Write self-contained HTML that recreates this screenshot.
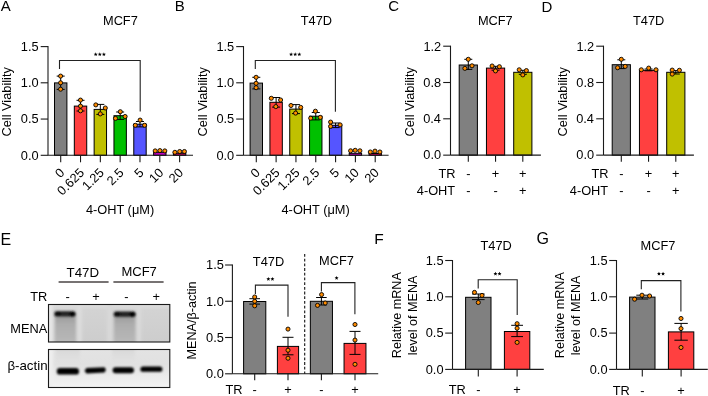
<!DOCTYPE html>
<html><head><meta charset="utf-8"><style>
html,body{margin:0;padding:0;background:#fff;}
svg{display:block;will-change:transform;font-family:"Liberation Sans", sans-serif;}
</style></head><body>
<svg width="708" height="396" viewBox="0 0 708 396">
<rect width="708" height="396" fill="#fff"/>
<text x="0.77" y="11.20" font-size="15" fill="#000" >A</text>
<text x="174.77" y="11.40" font-size="15" fill="#000" >B</text>
<text x="388.24" y="11.25" font-size="15" fill="#000" >C</text>
<text x="541.47" y="11.50" font-size="15" fill="#000" >D</text>
<text x="0.49" y="244.60" font-size="16" fill="#000" >E</text>
<text x="374.13" y="244.40" font-size="15.5" fill="#000" >F</text>
<text x="536.40" y="244.34" font-size="16" fill="#000" >G</text>
<text x="102.97" y="24.88" font-size="12.8" fill="#000" >MCF7</text>
<text transform="translate(11.00,136.55) rotate(-90)" font-size="12.8">Cell Viability</text>
<line x1="48.00" y1="46.10" x2="48.00" y2="155.30" stroke="#1a1a1a" stroke-width="1.1" />
<line x1="40.70" y1="46.60" x2="48.00" y2="46.60" stroke="#1a1a1a" stroke-width="1.1" />
<text x="20.84" y="50.88" font-size="12.8" fill="#000" >1.5</text>
<line x1="40.70" y1="82.80" x2="48.00" y2="82.80" stroke="#1a1a1a" stroke-width="1.1" />
<text x="20.81" y="87.08" font-size="12.8" fill="#000" >1.0</text>
<line x1="40.70" y1="119.05" x2="48.00" y2="119.05" stroke="#1a1a1a" stroke-width="1.1" />
<text x="20.84" y="123.33" font-size="12.8" fill="#000" >0.5</text>
<line x1="40.70" y1="155.30" x2="48.00" y2="155.30" stroke="#1a1a1a" stroke-width="1.1" />
<text x="20.81" y="159.58" font-size="12.8" fill="#000" >0.0</text>
<rect x="54.50" y="82.90" width="12.40" height="72.40" fill="#808080" stroke="#000" stroke-width="1.0"/>
<line x1="60.70" y1="76.10" x2="60.70" y2="89.40" stroke="#000" stroke-width="1.0" />
<line x1="56.70" y1="76.10" x2="64.70" y2="76.10" stroke="#000" stroke-width="1.0" />
<line x1="56.70" y1="89.40" x2="64.70" y2="89.40" stroke="#000" stroke-width="1.0" />
<circle cx="60.60" cy="76.10" r="2.05" fill="#FF8C00" stroke="#000" stroke-width="0.9"/>
<circle cx="60.60" cy="82.80" r="2.05" fill="#FF8C00" stroke="#000" stroke-width="0.9"/>
<circle cx="60.60" cy="89.20" r="2.05" fill="#FF8C00" stroke="#000" stroke-width="0.9"/>
<rect x="74.32" y="106.10" width="12.40" height="49.20" fill="#FF4040" stroke="#000" stroke-width="1.0"/>
<line x1="80.52" y1="100.30" x2="80.52" y2="111.00" stroke="#000" stroke-width="1.0" />
<line x1="76.52" y1="100.30" x2="84.52" y2="100.30" stroke="#000" stroke-width="1.0" />
<line x1="76.52" y1="111.00" x2="84.52" y2="111.00" stroke="#000" stroke-width="1.0" />
<circle cx="80.50" cy="100.10" r="2.05" fill="#FF8C00" stroke="#000" stroke-width="0.9"/>
<circle cx="80.50" cy="106.10" r="2.05" fill="#FF8C00" stroke="#000" stroke-width="0.9"/>
<circle cx="80.50" cy="110.80" r="2.05" fill="#FF8C00" stroke="#000" stroke-width="0.9"/>
<rect x="94.14" y="109.40" width="12.40" height="45.90" fill="#C0C000" stroke="#000" stroke-width="1.0"/>
<line x1="100.34" y1="104.40" x2="100.34" y2="114.40" stroke="#000" stroke-width="1.0" />
<line x1="96.34" y1="104.40" x2="104.34" y2="104.40" stroke="#000" stroke-width="1.0" />
<line x1="96.34" y1="114.40" x2="104.34" y2="114.40" stroke="#000" stroke-width="1.0" />
<circle cx="95.80" cy="104.90" r="2.05" fill="#FF8C00" stroke="#000" stroke-width="0.9"/>
<circle cx="105.30" cy="108.00" r="2.05" fill="#FF8C00" stroke="#000" stroke-width="0.9"/>
<circle cx="100.30" cy="113.90" r="2.05" fill="#FF8C00" stroke="#000" stroke-width="0.9"/>
<rect x="113.96" y="115.70" width="12.40" height="39.60" fill="#00C000" stroke="#000" stroke-width="1.0"/>
<line x1="120.16" y1="112.00" x2="120.16" y2="119.40" stroke="#000" stroke-width="1.0" />
<line x1="116.16" y1="112.00" x2="124.16" y2="112.00" stroke="#000" stroke-width="1.0" />
<line x1="116.16" y1="119.40" x2="124.16" y2="119.40" stroke="#000" stroke-width="1.0" />
<circle cx="120.30" cy="111.70" r="2.05" fill="#FF8C00" stroke="#000" stroke-width="0.9"/>
<circle cx="115.50" cy="118.40" r="2.05" fill="#FF8C00" stroke="#000" stroke-width="0.9"/>
<circle cx="125.10" cy="116.50" r="2.05" fill="#FF8C00" stroke="#000" stroke-width="0.9"/>
<rect x="133.78" y="124.20" width="12.40" height="31.10" fill="#5555FF" stroke="#000" stroke-width="1.0"/>
<line x1="139.98" y1="121.50" x2="139.98" y2="126.90" stroke="#000" stroke-width="1.0" />
<line x1="135.98" y1="121.50" x2="143.98" y2="121.50" stroke="#000" stroke-width="1.0" />
<line x1="135.98" y1="126.90" x2="143.98" y2="126.90" stroke="#000" stroke-width="1.0" />
<circle cx="140.10" cy="120.10" r="2.05" fill="#FF8C00" stroke="#000" stroke-width="0.9"/>
<circle cx="135.30" cy="125.30" r="2.05" fill="#FF8C00" stroke="#000" stroke-width="0.9"/>
<circle cx="144.60" cy="125.30" r="2.05" fill="#FF8C00" stroke="#000" stroke-width="0.9"/>
<rect x="153.60" y="152.30" width="12.40" height="3.00" fill="#C000C0" stroke="#000" stroke-width="1.0"/>
<circle cx="155.20" cy="150.90" r="2.05" fill="#FF8C00" stroke="#000" stroke-width="0.9"/>
<circle cx="159.90" cy="150.60" r="2.05" fill="#FF8C00" stroke="#000" stroke-width="0.9"/>
<circle cx="164.80" cy="150.90" r="2.05" fill="#FF8C00" stroke="#000" stroke-width="0.9"/>
<rect x="173.42" y="153.20" width="12.40" height="2.10" fill="#CC0066" stroke="#000" stroke-width="1.0"/>
<circle cx="174.90" cy="152.30" r="2.05" fill="#FF8C00" stroke="#000" stroke-width="0.9"/>
<circle cx="179.70" cy="151.50" r="2.05" fill="#FF8C00" stroke="#000" stroke-width="0.9"/>
<circle cx="184.40" cy="151.50" r="2.05" fill="#FF8C00" stroke="#000" stroke-width="0.9"/>
<line x1="48.00" y1="155.30" x2="193.00" y2="155.30" stroke="#1a1a1a" stroke-width="1.1" />
<line x1="60.70" y1="155.30" x2="60.70" y2="162.30" stroke="#1a1a1a" stroke-width="1.1" />
<line x1="80.52" y1="155.30" x2="80.52" y2="162.30" stroke="#1a1a1a" stroke-width="1.1" />
<line x1="100.34" y1="155.30" x2="100.34" y2="162.30" stroke="#1a1a1a" stroke-width="1.1" />
<line x1="120.16" y1="155.30" x2="120.16" y2="162.30" stroke="#1a1a1a" stroke-width="1.1" />
<line x1="139.98" y1="155.30" x2="139.98" y2="162.30" stroke="#1a1a1a" stroke-width="1.1" />
<line x1="159.80" y1="155.30" x2="159.80" y2="162.30" stroke="#1a1a1a" stroke-width="1.1" />
<line x1="179.62" y1="155.30" x2="179.62" y2="162.30" stroke="#1a1a1a" stroke-width="1.1" />
<polyline points="59.50,69.10 59.50,60.50 140.20,60.50 140.20,111.40" fill="none" stroke="#222" stroke-width="1.1"/>
<polygon points="95.70,52.30 96.26,53.64 97.70,53.75 96.60,54.69 96.93,56.10 95.70,55.34 94.47,56.10 94.80,54.69 93.70,53.75 95.14,53.64" fill="#000"/>
<polygon points="99.80,52.30 100.36,53.64 101.80,53.75 100.70,54.69 101.03,56.10 99.80,55.34 98.57,56.10 98.90,54.69 97.80,53.75 99.24,53.64" fill="#000"/>
<polygon points="103.90,52.30 104.46,53.64 105.90,53.75 104.80,54.69 105.13,56.10 103.90,55.34 102.67,56.10 103.00,54.69 101.90,53.75 103.34,53.64" fill="#000"/>
<text transform="translate(65.20,173.40) rotate(-45)" font-size="12.8" text-anchor="end">0</text>
<text transform="translate(85.02,173.40) rotate(-45)" font-size="12.8" text-anchor="end">0.625</text>
<text transform="translate(104.84,173.40) rotate(-45)" font-size="12.8" text-anchor="end">1.25</text>
<text transform="translate(124.66,173.40) rotate(-45)" font-size="12.8" text-anchor="end">2.5</text>
<text transform="translate(144.48,173.40) rotate(-45)" font-size="12.8" text-anchor="end">5</text>
<text transform="translate(164.30,173.40) rotate(-45)" font-size="12.8" text-anchor="end">10</text>
<text transform="translate(184.12,173.40) rotate(-45)" font-size="12.8" text-anchor="end">20</text>
<text x="85.91" y="214.00" font-size="12.8" fill="#000" >4-OHT (μM)</text>
<text x="300.71" y="25.00" font-size="12.8" fill="#000" >T47D</text>
<text transform="translate(206.60,136.55) rotate(-90)" font-size="12.8">Cell Viability</text>
<line x1="243.50" y1="46.10" x2="243.50" y2="155.30" stroke="#1a1a1a" stroke-width="1.1" />
<line x1="236.20" y1="46.60" x2="243.50" y2="46.60" stroke="#1a1a1a" stroke-width="1.1" />
<text x="216.44" y="50.88" font-size="12.8" fill="#000" >1.5</text>
<line x1="236.20" y1="82.80" x2="243.50" y2="82.80" stroke="#1a1a1a" stroke-width="1.1" />
<text x="216.41" y="87.08" font-size="12.8" fill="#000" >1.0</text>
<line x1="236.20" y1="119.05" x2="243.50" y2="119.05" stroke="#1a1a1a" stroke-width="1.1" />
<text x="216.44" y="123.33" font-size="12.8" fill="#000" >0.5</text>
<line x1="236.20" y1="155.30" x2="243.50" y2="155.30" stroke="#1a1a1a" stroke-width="1.1" />
<text x="216.41" y="159.58" font-size="12.8" fill="#000" >0.0</text>
<rect x="250.10" y="83.10" width="12.40" height="72.20" fill="#808080" stroke="#000" stroke-width="1.0"/>
<line x1="256.30" y1="77.30" x2="256.30" y2="88.90" stroke="#000" stroke-width="1.0" />
<line x1="252.30" y1="77.30" x2="260.30" y2="77.30" stroke="#000" stroke-width="1.0" />
<line x1="252.30" y1="88.90" x2="260.30" y2="88.90" stroke="#000" stroke-width="1.0" />
<circle cx="256.10" cy="77.30" r="2.05" fill="#FF8C00" stroke="#000" stroke-width="0.9"/>
<circle cx="256.10" cy="83.30" r="2.05" fill="#FF8C00" stroke="#000" stroke-width="0.9"/>
<circle cx="256.10" cy="87.70" r="2.05" fill="#FF8C00" stroke="#000" stroke-width="0.9"/>
<rect x="269.92" y="102.30" width="12.40" height="53.00" fill="#FF4040" stroke="#000" stroke-width="1.0"/>
<line x1="276.12" y1="97.50" x2="276.12" y2="107.10" stroke="#000" stroke-width="1.0" />
<line x1="272.12" y1="97.50" x2="280.12" y2="97.50" stroke="#000" stroke-width="1.0" />
<line x1="272.12" y1="107.10" x2="280.12" y2="107.10" stroke="#000" stroke-width="1.0" />
<circle cx="271.30" cy="98.30" r="2.05" fill="#FF8C00" stroke="#000" stroke-width="0.9"/>
<circle cx="280.60" cy="100.00" r="2.05" fill="#FF8C00" stroke="#000" stroke-width="0.9"/>
<circle cx="275.80" cy="106.60" r="2.05" fill="#FF8C00" stroke="#000" stroke-width="0.9"/>
<rect x="289.74" y="109.10" width="12.40" height="46.20" fill="#C0C000" stroke="#000" stroke-width="1.0"/>
<line x1="295.94" y1="104.60" x2="295.94" y2="113.60" stroke="#000" stroke-width="1.0" />
<line x1="291.94" y1="104.60" x2="299.94" y2="104.60" stroke="#000" stroke-width="1.0" />
<line x1="291.94" y1="113.60" x2="299.94" y2="113.60" stroke="#000" stroke-width="1.0" />
<circle cx="291.00" cy="105.50" r="2.05" fill="#FF8C00" stroke="#000" stroke-width="0.9"/>
<circle cx="300.70" cy="107.40" r="2.05" fill="#FF8C00" stroke="#000" stroke-width="0.9"/>
<circle cx="295.60" cy="113.10" r="2.05" fill="#FF8C00" stroke="#000" stroke-width="0.9"/>
<rect x="309.56" y="116.20" width="12.40" height="39.10" fill="#00C000" stroke="#000" stroke-width="1.0"/>
<line x1="315.76" y1="112.50" x2="315.76" y2="119.90" stroke="#000" stroke-width="1.0" />
<line x1="311.76" y1="112.50" x2="319.76" y2="112.50" stroke="#000" stroke-width="1.0" />
<line x1="311.76" y1="119.90" x2="319.76" y2="119.90" stroke="#000" stroke-width="1.0" />
<circle cx="315.40" cy="111.20" r="2.05" fill="#FF8C00" stroke="#000" stroke-width="0.9"/>
<circle cx="310.70" cy="118.20" r="2.05" fill="#FF8C00" stroke="#000" stroke-width="0.9"/>
<circle cx="320.30" cy="117.40" r="2.05" fill="#FF8C00" stroke="#000" stroke-width="0.9"/>
<rect x="329.38" y="125.30" width="12.40" height="30.00" fill="#5555FF" stroke="#000" stroke-width="1.0"/>
<line x1="335.58" y1="123.00" x2="335.58" y2="127.60" stroke="#000" stroke-width="1.0" />
<line x1="331.58" y1="123.00" x2="339.58" y2="123.00" stroke="#000" stroke-width="1.0" />
<line x1="331.58" y1="127.60" x2="339.58" y2="127.60" stroke="#000" stroke-width="1.0" />
<circle cx="330.60" cy="122.10" r="2.05" fill="#FF8C00" stroke="#000" stroke-width="0.9"/>
<circle cx="330.60" cy="126.40" r="2.05" fill="#FF8C00" stroke="#000" stroke-width="0.9"/>
<circle cx="340.10" cy="124.90" r="2.05" fill="#FF8C00" stroke="#000" stroke-width="0.9"/>
<rect x="349.20" y="153.30" width="12.40" height="2.00" fill="#C000C0" stroke="#000" stroke-width="1.0"/>
<circle cx="350.60" cy="150.80" r="2.05" fill="#FF8C00" stroke="#000" stroke-width="0.9"/>
<circle cx="355.20" cy="150.30" r="2.05" fill="#FF8C00" stroke="#000" stroke-width="0.9"/>
<circle cx="359.90" cy="150.80" r="2.05" fill="#FF8C00" stroke="#000" stroke-width="0.9"/>
<rect x="369.02" y="153.50" width="12.40" height="1.80" fill="#CC0066" stroke="#000" stroke-width="1.0"/>
<circle cx="370.30" cy="152.00" r="2.05" fill="#FF8C00" stroke="#000" stroke-width="0.9"/>
<circle cx="375.00" cy="151.10" r="2.05" fill="#FF8C00" stroke="#000" stroke-width="0.9"/>
<circle cx="379.90" cy="152.00" r="2.05" fill="#FF8C00" stroke="#000" stroke-width="0.9"/>
<line x1="243.50" y1="155.30" x2="388.60" y2="155.30" stroke="#1a1a1a" stroke-width="1.1" />
<line x1="256.30" y1="155.30" x2="256.30" y2="162.30" stroke="#1a1a1a" stroke-width="1.1" />
<line x1="276.12" y1="155.30" x2="276.12" y2="162.30" stroke="#1a1a1a" stroke-width="1.1" />
<line x1="295.94" y1="155.30" x2="295.94" y2="162.30" stroke="#1a1a1a" stroke-width="1.1" />
<line x1="315.76" y1="155.30" x2="315.76" y2="162.30" stroke="#1a1a1a" stroke-width="1.1" />
<line x1="335.58" y1="155.30" x2="335.58" y2="162.30" stroke="#1a1a1a" stroke-width="1.1" />
<line x1="355.40" y1="155.30" x2="355.40" y2="162.30" stroke="#1a1a1a" stroke-width="1.1" />
<line x1="375.22" y1="155.30" x2="375.22" y2="162.30" stroke="#1a1a1a" stroke-width="1.1" />
<polyline points="255.30,69.10 255.30,60.50 335.40,60.50 335.40,111.70" fill="none" stroke="#222" stroke-width="1.1"/>
<polygon points="291.10,52.30 291.66,53.64 293.10,53.75 292.00,54.69 292.33,56.10 291.10,55.34 289.87,56.10 290.20,54.69 289.10,53.75 290.54,53.64" fill="#000"/>
<polygon points="295.20,52.30 295.76,53.64 297.20,53.75 296.10,54.69 296.43,56.10 295.20,55.34 293.97,56.10 294.30,54.69 293.20,53.75 294.64,53.64" fill="#000"/>
<polygon points="299.30,52.30 299.86,53.64 301.30,53.75 300.20,54.69 300.53,56.10 299.30,55.34 298.07,56.10 298.40,54.69 297.30,53.75 298.74,53.64" fill="#000"/>
<text transform="translate(260.80,173.40) rotate(-45)" font-size="12.8" text-anchor="end">0</text>
<text transform="translate(280.62,173.40) rotate(-45)" font-size="12.8" text-anchor="end">0.625</text>
<text transform="translate(300.44,173.40) rotate(-45)" font-size="12.8" text-anchor="end">1.25</text>
<text transform="translate(320.26,173.40) rotate(-45)" font-size="12.8" text-anchor="end">2.5</text>
<text transform="translate(340.08,173.40) rotate(-45)" font-size="12.8" text-anchor="end">5</text>
<text transform="translate(359.90,173.40) rotate(-45)" font-size="12.8" text-anchor="end">10</text>
<text transform="translate(379.72,173.40) rotate(-45)" font-size="12.8" text-anchor="end">20</text>
<text x="281.51" y="214.00" font-size="12.8" fill="#000" >4-OHT (μM)</text>
<text x="477.88" y="24.88" font-size="12.8" fill="#000" >MCF7</text>
<text transform="translate(414.30,136.55) rotate(-90)" font-size="12.8">Cell Viability</text>
<line x1="450.50" y1="45.70" x2="450.50" y2="155.15" stroke="#1a1a1a" stroke-width="1.1" />
<line x1="443.20" y1="46.20" x2="450.50" y2="46.20" stroke="#1a1a1a" stroke-width="1.1" />
<text x="423.45" y="50.60" font-size="12.8" fill="#000" >1.2</text>
<line x1="443.20" y1="82.50" x2="450.50" y2="82.50" stroke="#1a1a1a" stroke-width="1.1" />
<text x="423.36" y="86.78" font-size="12.8" fill="#000" >0.8</text>
<line x1="443.20" y1="118.80" x2="450.50" y2="118.80" stroke="#1a1a1a" stroke-width="1.1" />
<text x="423.18" y="123.08" font-size="12.8" fill="#000" >0.4</text>
<line x1="443.20" y1="155.15" x2="450.50" y2="155.15" stroke="#1a1a1a" stroke-width="1.1" />
<text x="423.31" y="159.43" font-size="12.8" fill="#000" >0.0</text>
<rect x="459.20" y="65.00" width="18.20" height="90.15" fill="#808080" stroke="#000" stroke-width="1.0"/>
<line x1="468.30" y1="59.30" x2="468.30" y2="69.40" stroke="#000" stroke-width="1.0" />
<line x1="464.30" y1="59.30" x2="472.30" y2="59.30" stroke="#000" stroke-width="1.0" />
<line x1="464.30" y1="69.40" x2="472.30" y2="69.40" stroke="#000" stroke-width="1.0" />
<circle cx="468.30" cy="59.30" r="2.05" fill="#FF8C00" stroke="#000" stroke-width="0.9"/>
<circle cx="464.90" cy="68.40" r="2.05" fill="#FF8C00" stroke="#000" stroke-width="0.9"/>
<circle cx="472.00" cy="65.80" r="2.05" fill="#FF8C00" stroke="#000" stroke-width="0.9"/>
<rect x="486.45" y="68.10" width="18.20" height="87.05" fill="#FF4040" stroke="#000" stroke-width="1.0"/>
<line x1="495.55" y1="66.30" x2="495.55" y2="70.20" stroke="#000" stroke-width="1.0" />
<line x1="491.55" y1="66.30" x2="499.55" y2="66.30" stroke="#000" stroke-width="1.0" />
<line x1="491.55" y1="70.20" x2="499.55" y2="70.20" stroke="#000" stroke-width="1.0" />
<circle cx="492.10" cy="66.00" r="2.05" fill="#FF8C00" stroke="#000" stroke-width="0.9"/>
<circle cx="499.40" cy="66.70" r="2.05" fill="#FF8C00" stroke="#000" stroke-width="0.9"/>
<circle cx="495.50" cy="70.90" r="2.05" fill="#FF8C00" stroke="#000" stroke-width="0.9"/>
<rect x="513.70" y="72.30" width="18.20" height="82.85" fill="#C0C000" stroke="#000" stroke-width="1.0"/>
<line x1="522.80" y1="70.30" x2="522.80" y2="74.30" stroke="#000" stroke-width="1.0" />
<line x1="518.80" y1="70.30" x2="526.80" y2="70.30" stroke="#000" stroke-width="1.0" />
<line x1="518.80" y1="74.30" x2="526.80" y2="74.30" stroke="#000" stroke-width="1.0" />
<circle cx="519.20" cy="69.80" r="2.05" fill="#FF8C00" stroke="#000" stroke-width="0.9"/>
<circle cx="526.40" cy="70.60" r="2.05" fill="#FF8C00" stroke="#000" stroke-width="0.9"/>
<circle cx="522.80" cy="74.90" r="2.05" fill="#FF8C00" stroke="#000" stroke-width="0.9"/>
<line x1="450.50" y1="155.15" x2="540.90" y2="155.15" stroke="#1a1a1a" stroke-width="1.1" />
<line x1="468.30" y1="155.15" x2="468.30" y2="161.65" stroke="#1a1a1a" stroke-width="1.1" />
<line x1="495.55" y1="155.15" x2="495.55" y2="161.65" stroke="#1a1a1a" stroke-width="1.1" />
<line x1="522.80" y1="155.15" x2="522.80" y2="161.65" stroke="#1a1a1a" stroke-width="1.1" />
<text x="438.43" y="177.60" font-size="12.8" fill="#000" >TR</text>
<text x="416.79" y="194.68" font-size="12.8" fill="#000" >4-OHT</text>
<text x="466.17" y="177.60" font-size="12.8" fill="#000" >-</text>
<text x="491.82" y="177.60" font-size="12.8" fill="#000" >+</text>
<text x="519.07" y="177.60" font-size="12.8" fill="#000" >+</text>
<text x="466.17" y="194.80" font-size="12.8" fill="#000" >-</text>
<text x="493.42" y="194.80" font-size="12.8" fill="#000" >-</text>
<text x="519.07" y="194.80" font-size="12.8" fill="#000" >+</text>
<text x="633.01" y="25.00" font-size="12.8" fill="#000" >T47D</text>
<text transform="translate(567.30,136.55) rotate(-90)" font-size="12.8">Cell Viability</text>
<line x1="603.50" y1="45.70" x2="603.50" y2="155.15" stroke="#1a1a1a" stroke-width="1.1" />
<line x1="596.20" y1="46.20" x2="603.50" y2="46.20" stroke="#1a1a1a" stroke-width="1.1" />
<text x="576.45" y="50.60" font-size="12.8" fill="#000" >1.2</text>
<line x1="596.20" y1="82.50" x2="603.50" y2="82.50" stroke="#1a1a1a" stroke-width="1.1" />
<text x="576.36" y="86.78" font-size="12.8" fill="#000" >0.8</text>
<line x1="596.20" y1="118.80" x2="603.50" y2="118.80" stroke="#1a1a1a" stroke-width="1.1" />
<text x="576.18" y="123.08" font-size="12.8" fill="#000" >0.4</text>
<line x1="596.20" y1="155.15" x2="603.50" y2="155.15" stroke="#1a1a1a" stroke-width="1.1" />
<text x="576.31" y="159.43" font-size="12.8" fill="#000" >0.0</text>
<rect x="612.20" y="64.70" width="18.20" height="90.45" fill="#808080" stroke="#000" stroke-width="1.0"/>
<line x1="621.30" y1="59.80" x2="621.30" y2="68.60" stroke="#000" stroke-width="1.0" />
<line x1="617.30" y1="59.80" x2="625.30" y2="59.80" stroke="#000" stroke-width="1.0" />
<line x1="617.30" y1="68.60" x2="625.30" y2="68.60" stroke="#000" stroke-width="1.0" />
<circle cx="621.30" cy="59.30" r="2.05" fill="#FF8C00" stroke="#000" stroke-width="0.9"/>
<circle cx="617.60" cy="67.70" r="2.05" fill="#FF8C00" stroke="#000" stroke-width="0.9"/>
<circle cx="625.20" cy="66.40" r="2.05" fill="#FF8C00" stroke="#000" stroke-width="0.9"/>
<rect x="639.45" y="70.30" width="18.20" height="84.85" fill="#FF4040" stroke="#000" stroke-width="1.0"/>
<line x1="648.55" y1="69.00" x2="648.55" y2="70.80" stroke="#000" stroke-width="1.0" />
<line x1="644.55" y1="69.00" x2="652.55" y2="69.00" stroke="#000" stroke-width="1.0" />
<line x1="644.55" y1="70.80" x2="652.55" y2="70.80" stroke="#000" stroke-width="1.0" />
<circle cx="641.30" cy="69.80" r="2.05" fill="#FF8C00" stroke="#000" stroke-width="0.9"/>
<circle cx="648.70" cy="68.10" r="2.05" fill="#FF8C00" stroke="#000" stroke-width="0.9"/>
<circle cx="656.00" cy="69.80" r="2.05" fill="#FF8C00" stroke="#000" stroke-width="0.9"/>
<rect x="666.70" y="72.30" width="18.20" height="82.85" fill="#C0C000" stroke="#000" stroke-width="1.0"/>
<line x1="675.80" y1="70.60" x2="675.80" y2="74.00" stroke="#000" stroke-width="1.0" />
<line x1="671.80" y1="70.60" x2="679.80" y2="70.60" stroke="#000" stroke-width="1.0" />
<line x1="671.80" y1="74.00" x2="679.80" y2="74.00" stroke="#000" stroke-width="1.0" />
<circle cx="672.20" cy="70.10" r="2.05" fill="#FF8C00" stroke="#000" stroke-width="0.9"/>
<circle cx="679.40" cy="70.30" r="2.05" fill="#FF8C00" stroke="#000" stroke-width="0.9"/>
<circle cx="672.20" cy="74.10" r="2.05" fill="#FF8C00" stroke="#000" stroke-width="0.9"/>
<line x1="603.50" y1="155.15" x2="693.90" y2="155.15" stroke="#1a1a1a" stroke-width="1.1" />
<line x1="621.30" y1="155.15" x2="621.30" y2="161.65" stroke="#1a1a1a" stroke-width="1.1" />
<line x1="648.55" y1="155.15" x2="648.55" y2="161.65" stroke="#1a1a1a" stroke-width="1.1" />
<line x1="675.80" y1="155.15" x2="675.80" y2="161.65" stroke="#1a1a1a" stroke-width="1.1" />
<text x="591.43" y="177.60" font-size="12.8" fill="#000" >TR</text>
<text x="569.79" y="194.68" font-size="12.8" fill="#000" >4-OHT</text>
<text x="619.17" y="177.60" font-size="12.8" fill="#000" >-</text>
<text x="644.82" y="177.60" font-size="12.8" fill="#000" >+</text>
<text x="672.07" y="177.60" font-size="12.8" fill="#000" >+</text>
<text x="619.17" y="194.80" font-size="12.8" fill="#000" >-</text>
<text x="646.42" y="194.80" font-size="12.8" fill="#000" >-</text>
<text x="672.07" y="194.80" font-size="12.8" fill="#000" >+</text>
<text x="66.60" y="277.20" font-size="13.3" fill="#000" >T47D</text>
<text x="121.43" y="275.97" font-size="13.0" fill="#000" >MCF7</text>
<line x1="58.60" y1="282.00" x2="108.60" y2="282.00" stroke="#4a4444" stroke-width="1.6" />
<line x1="113.40" y1="282.00" x2="163.60" y2="282.00" stroke="#4a4444" stroke-width="1.6" />
<text x="30.21" y="300.80" font-size="12.8" fill="#000" >TR</text>
<text x="65.57" y="300.80" font-size="12.8" fill="#000" >-</text>
<text x="92.27" y="300.80" font-size="12.8" fill="#000" >+</text>
<text x="124.27" y="300.80" font-size="12.8" fill="#000" >-</text>
<text x="152.57" y="300.80" font-size="12.8" fill="#000" >+</text>
<text x="10.35" y="333.00" font-size="12.8" fill="#000" >MENA</text>
<text x="7.38" y="369.80" font-size="13.3" fill="#000" >β-actin</text>
<defs>
<filter id="bl1" x="-30%" y="-100%" width="160%" height="300%"><feGaussianBlur stdDeviation="1.15"/></filter>
<filter id="bl2" x="-30%" y="-30%" width="160%" height="160%"><feGaussianBlur stdDeviation="1.6"/></filter>
<filter id="bl3" x="-30%" y="-60%" width="160%" height="220%"><feGaussianBlur stdDeviation="0.85"/></filter>
<linearGradient id="topbg" x1="0" y1="0" x2="0" y2="1">
<stop offset="0" stop-color="#dedede"/><stop offset="0.15" stop-color="#d3d3d3"/><stop offset="1" stop-color="#cdcdcd"/>
</linearGradient>
<linearGradient id="smear" x1="0" y1="0" x2="0" y2="1">
<stop offset="0" stop-color="#999999"/><stop offset="0.3" stop-color="#adadad"/><stop offset="1" stop-color="#bdbdbd"/>
</linearGradient>
<linearGradient id="botbg" x1="0" y1="0" x2="0" y2="1">
<stop offset="0" stop-color="#e3e3e3"/><stop offset="0.4" stop-color="#e1e1e1"/><stop offset="0.7" stop-color="#ebebeb"/><stop offset="1" stop-color="#f2f2f2"/>
</linearGradient>
<linearGradient id="smear2" x1="0" y1="0" x2="0" y2="1">
<stop offset="0" stop-color="#d2d2d2"/><stop offset="1" stop-color="#dedede" stop-opacity="0"/>
</linearGradient>
<clipPath id="cb1"><rect x="48.5" y="304.5" width="121.3" height="37.5"/></clipPath>
<clipPath id="cb2"><rect x="48.5" y="349.5" width="121.3" height="38"/></clipPath>
</defs>
<g clip-path="url(#cb1)">
<rect x="48.5" y="304.5" width="121.3" height="37.5" fill="url(#topbg)"/>
<g filter="url(#bl2)">
<rect x="47" y="300" width="6" height="50" fill="#e6e6e6"/>
<rect x="77" y="300" width="5" height="50" fill="#dcdcdc"/>
<rect x="107" y="300" width="5" height="50" fill="#d8d8d8"/>
<rect x="137" y="300" width="4" height="50" fill="#dadada"/>
<rect x="55" y="314" width="21" height="36" fill="url(#smear)"/>
<rect x="114" y="314" width="21.5" height="36" fill="url(#smear)"/>
</g>
<g filter="url(#bl1)">
<rect x="54.3" y="311.3" width="21.0" height="5.3" rx="2.5" fill="#222"/>
<rect x="113.7" y="311.5" width="21.7" height="5.3" rx="2.5" fill="#222"/>
<ellipse cx="72.5" cy="314" rx="3" ry="2.3" fill="#000"/>
<ellipse cx="132.5" cy="314.2" rx="3" ry="2.3" fill="#000"/>
<ellipse cx="58" cy="313.8" rx="3" ry="2.2" fill="#111"/>
<ellipse cx="117.5" cy="313.9" rx="3" ry="2.2" fill="#111"/>
</g>
</g>
<g clip-path="url(#cb2)">
<rect x="48.5" y="349.5" width="121.3" height="38" fill="url(#botbg)"/>
<g filter="url(#bl2)">
<rect x="56" y="345" width="24" height="20" fill="url(#smear2)"/>
<rect x="112" y="345" width="23" height="20" fill="url(#smear2)"/>
<rect x="47" y="345" width="6" height="46" fill="#efefef"/>
</g>
<g filter="url(#bl3)">
<rect x="56.8" y="368.0" width="22.2" height="6.6" rx="3.2" fill="#050505"/>
<polygon points="86.5,368.0 104.5,367.2 106.0,369.8 104.5,372.6 86.5,373.4 84.5,370.7" fill="#050505"/>
<rect x="112.6" y="367.2" width="21.4" height="6.1" rx="3" fill="#050505"/>
<rect x="140.4" y="366.6" width="22.0" height="5.2" rx="2.6" fill="#050505"/>
</g>
</g>
<rect x="48.5" y="304.5" width="121.3" height="37.5" fill="none" stroke="#1a1a1a" stroke-width="1.1"/>
<rect x="48.5" y="349.5" width="121.3" height="38" fill="none" stroke="#1a1a1a" stroke-width="1.1"/>

<text x="252.86" y="266.20" font-size="12.8" fill="#000" >T47D</text>
<text x="319.12" y="265.07" font-size="12.8" fill="#000" >MCF7</text>
<text transform="translate(196.30,359.39) rotate(-90)" font-size="12.6">MENA/β-actin</text>
<line x1="232.40" y1="264.50" x2="232.40" y2="373.80" stroke="#1a1a1a" stroke-width="1.1" />
<line x1="225.10" y1="265.00" x2="232.40" y2="265.00" stroke="#1a1a1a" stroke-width="1.1" />
<text x="206.04" y="269.28" font-size="12.8" fill="#000" >1.5</text>
<line x1="225.10" y1="301.25" x2="232.40" y2="301.25" stroke="#1a1a1a" stroke-width="1.1" />
<text x="206.01" y="305.53" font-size="12.8" fill="#000" >1.0</text>
<line x1="225.10" y1="337.50" x2="232.40" y2="337.50" stroke="#1a1a1a" stroke-width="1.1" />
<text x="206.04" y="341.78" font-size="12.8" fill="#000" >0.5</text>
<line x1="225.10" y1="373.80" x2="232.40" y2="373.80" stroke="#1a1a1a" stroke-width="1.1" />
<text x="206.01" y="378.08" font-size="12.8" fill="#000" >0.0</text>
<rect x="243.60" y="301.50" width="22.20" height="72.30" fill="#808080" stroke="#000" stroke-width="1.0"/>
<line x1="254.70" y1="298.70" x2="254.70" y2="304.10" stroke="#000" stroke-width="1.0" />
<line x1="249.40" y1="298.70" x2="260.00" y2="298.70" stroke="#000" stroke-width="1.0" />
<line x1="249.40" y1="304.10" x2="260.00" y2="304.10" stroke="#000" stroke-width="1.0" />
<circle cx="254.70" cy="297.00" r="2.05" fill="#FF8C00" stroke="#000" stroke-width="0.9"/>
<circle cx="254.70" cy="301.30" r="2.05" fill="#FF8C00" stroke="#000" stroke-width="0.9"/>
<circle cx="254.70" cy="305.80" r="2.05" fill="#FF8C00" stroke="#000" stroke-width="0.9"/>
<rect x="277.40" y="346.40" width="21.20" height="27.40" fill="#FF4040" stroke="#000" stroke-width="1.0"/>
<line x1="288.00" y1="337.30" x2="288.00" y2="354.80" stroke="#000" stroke-width="1.0" />
<line x1="282.50" y1="337.30" x2="293.50" y2="337.30" stroke="#000" stroke-width="1.0" />
<line x1="282.50" y1="354.80" x2="293.50" y2="354.80" stroke="#000" stroke-width="1.0" />
<circle cx="288.00" cy="329.10" r="2.05" fill="#FF8C00" stroke="#000" stroke-width="0.9"/>
<circle cx="288.00" cy="350.20" r="2.05" fill="#FF8C00" stroke="#000" stroke-width="0.9"/>
<circle cx="288.00" cy="358.20" r="2.05" fill="#FF8C00" stroke="#000" stroke-width="0.9"/>
<rect x="310.35" y="301.30" width="22.10" height="72.50" fill="#808080" stroke="#000" stroke-width="1.0"/>
<line x1="321.40" y1="297.50" x2="321.40" y2="305.00" stroke="#000" stroke-width="1.0" />
<line x1="316.10" y1="297.50" x2="326.70" y2="297.50" stroke="#000" stroke-width="1.0" />
<line x1="316.10" y1="305.00" x2="326.70" y2="305.00" stroke="#000" stroke-width="1.0" />
<circle cx="321.60" cy="294.60" r="2.05" fill="#FF8C00" stroke="#000" stroke-width="0.9"/>
<circle cx="317.50" cy="305.40" r="2.05" fill="#FF8C00" stroke="#000" stroke-width="0.9"/>
<circle cx="325.20" cy="303.00" r="2.05" fill="#FF8C00" stroke="#000" stroke-width="0.9"/>
<rect x="344.05" y="343.40" width="21.90" height="30.40" fill="#FF4040" stroke="#000" stroke-width="1.0"/>
<line x1="355.00" y1="331.40" x2="355.00" y2="354.40" stroke="#000" stroke-width="1.0" />
<line x1="349.50" y1="331.40" x2="360.50" y2="331.40" stroke="#000" stroke-width="1.0" />
<line x1="349.50" y1="354.40" x2="360.50" y2="354.40" stroke="#000" stroke-width="1.0" />
<circle cx="355.00" cy="324.50" r="2.05" fill="#FF8C00" stroke="#000" stroke-width="0.9"/>
<circle cx="355.00" cy="340.10" r="2.05" fill="#FF8C00" stroke="#000" stroke-width="0.9"/>
<circle cx="355.00" cy="364.30" r="2.05" fill="#FF8C00" stroke="#000" stroke-width="0.9"/>
<line x1="232.40" y1="373.80" x2="378.20" y2="373.80" stroke="#1a1a1a" stroke-width="1.1" />
<line x1="254.70" y1="373.80" x2="254.70" y2="380.30" stroke="#1a1a1a" stroke-width="1.1" />
<line x1="288.00" y1="373.80" x2="288.00" y2="380.30" stroke="#1a1a1a" stroke-width="1.1" />
<line x1="321.40" y1="373.80" x2="321.40" y2="380.30" stroke="#1a1a1a" stroke-width="1.1" />
<line x1="355.00" y1="373.80" x2="355.00" y2="380.30" stroke="#1a1a1a" stroke-width="1.1" />
<line x1="304.70" y1="254.00" x2="304.70" y2="373.80" stroke="#111" stroke-width="1.1" stroke-dasharray="2.8 1.9"/>
<polyline points="255.40,294.00 255.40,285.10 288.00,285.10 288.00,316.80" fill="none" stroke="#222" stroke-width="1.1"/>
<polygon points="268.35,276.90 268.91,278.24 270.35,278.35 269.25,279.29 269.58,280.70 268.35,279.94 267.12,280.70 267.45,279.29 266.35,278.35 267.79,278.24" fill="#000"/>
<polygon points="272.45,276.90 273.01,278.24 274.45,278.35 273.35,279.29 273.68,280.70 272.45,279.94 271.22,280.70 271.55,279.29 270.45,278.35 271.89,278.24" fill="#000"/>
<polyline points="321.40,291.60 321.40,282.60 354.90,282.60 354.90,314.30" fill="none" stroke="#222" stroke-width="1.1"/>
<polygon points="336.60,275.90 337.16,277.24 338.60,277.35 337.50,278.29 337.83,279.70 336.60,278.94 335.37,279.70 335.70,278.29 334.60,277.35 336.04,277.24" fill="#000"/>
<text x="225.51" y="394.00" font-size="12.8" fill="#000" >TR</text>
<text x="252.57" y="394.00" font-size="12.8" fill="#000" >-</text>
<text x="284.27" y="394.00" font-size="12.8" fill="#000" >+</text>
<text x="319.27" y="394.00" font-size="12.8" fill="#000" >-</text>
<text x="351.27" y="394.00" font-size="12.8" fill="#000" >+</text>
<text x="480.51" y="249.90" font-size="12.8" fill="#000" >T47D</text>
<text transform="translate(401.40,315.15) rotate(-90)" font-size="12.58" text-anchor="middle">Relative mRNA</text>
<text transform="translate(416.90,315.40) rotate(-90)" font-size="12.58" text-anchor="middle">level of MENA</text>
<line x1="452.50" y1="260.00" x2="452.50" y2="369.40" stroke="#1a1a1a" stroke-width="1.1" />
<line x1="445.20" y1="260.50" x2="452.50" y2="260.50" stroke="#1a1a1a" stroke-width="1.1" />
<text x="425.74" y="264.78" font-size="12.8" fill="#000" >1.5</text>
<line x1="445.20" y1="296.80" x2="452.50" y2="296.80" stroke="#1a1a1a" stroke-width="1.1" />
<text x="425.71" y="301.08" font-size="12.8" fill="#000" >1.0</text>
<line x1="445.20" y1="333.10" x2="452.50" y2="333.10" stroke="#1a1a1a" stroke-width="1.1" />
<text x="425.74" y="337.38" font-size="12.8" fill="#000" >0.5</text>
<line x1="445.20" y1="369.40" x2="452.50" y2="369.40" stroke="#1a1a1a" stroke-width="1.1" />
<text x="425.71" y="373.68" font-size="12.8" fill="#000" >0.0</text>
<rect x="465.60" y="297.30" width="25.40" height="72.10" fill="#808080" stroke="#000" stroke-width="1.0"/>
<line x1="478.30" y1="294.00" x2="478.30" y2="299.60" stroke="#000" stroke-width="1.0" />
<line x1="472.00" y1="294.00" x2="484.60" y2="294.00" stroke="#000" stroke-width="1.0" />
<line x1="472.00" y1="299.60" x2="484.60" y2="299.60" stroke="#000" stroke-width="1.0" />
<circle cx="474.50" cy="292.40" r="2.05" fill="#FF8C00" stroke="#000" stroke-width="0.9"/>
<circle cx="482.00" cy="295.40" r="2.05" fill="#FF8C00" stroke="#000" stroke-width="0.9"/>
<circle cx="478.30" cy="302.50" r="2.05" fill="#FF8C00" stroke="#000" stroke-width="0.9"/>
<rect x="504.40" y="331.50" width="25.40" height="37.90" fill="#FF4040" stroke="#000" stroke-width="1.0"/>
<line x1="517.10" y1="325.30" x2="517.10" y2="336.60" stroke="#000" stroke-width="1.0" />
<line x1="511.20" y1="325.30" x2="523.00" y2="325.30" stroke="#000" stroke-width="1.0" />
<line x1="511.20" y1="336.60" x2="523.00" y2="336.60" stroke="#000" stroke-width="1.0" />
<circle cx="517.10" cy="323.70" r="2.05" fill="#FF8C00" stroke="#000" stroke-width="0.9"/>
<circle cx="517.10" cy="328.20" r="2.05" fill="#FF8C00" stroke="#000" stroke-width="0.9"/>
<circle cx="517.10" cy="342.40" r="2.05" fill="#FF8C00" stroke="#000" stroke-width="0.9"/>
<line x1="452.50" y1="369.40" x2="543.80" y2="369.40" stroke="#1a1a1a" stroke-width="1.1" />
<line x1="478.30" y1="369.40" x2="478.30" y2="376.40" stroke="#1a1a1a" stroke-width="1.1" />
<line x1="517.10" y1="369.40" x2="517.10" y2="376.40" stroke="#1a1a1a" stroke-width="1.1" />
<polyline points="478.20,288.60 478.20,279.80 517.20,279.80 517.20,315.00" fill="none" stroke="#222" stroke-width="1.1"/>
<polygon points="495.45,271.70 496.01,273.04 497.45,273.15 496.35,274.09 496.68,275.50 495.45,274.75 494.22,275.50 494.55,274.09 493.45,273.15 494.89,273.04" fill="#000"/>
<polygon points="499.55,271.70 500.11,273.04 501.55,273.15 500.45,274.09 500.78,275.50 499.55,274.75 498.32,275.50 498.65,274.09 497.55,273.15 498.99,273.04" fill="#000"/>
<text x="448.71" y="393.60" font-size="12.8" fill="#000" >TR</text>
<text x="476.17" y="393.60" font-size="12.8" fill="#000" >-</text>
<text x="513.37" y="393.60" font-size="12.8" fill="#000" >+</text>
<text x="640.62" y="249.78" font-size="12.8" fill="#000" >MCF7</text>
<text transform="translate(564.20,315.15) rotate(-90)" font-size="12.58" text-anchor="middle">Relative mRNA</text>
<text transform="translate(580.20,315.40) rotate(-90)" font-size="12.58" text-anchor="middle">level of MENA</text>
<line x1="616.50" y1="260.00" x2="616.50" y2="369.40" stroke="#1a1a1a" stroke-width="1.1" />
<line x1="609.20" y1="260.50" x2="616.50" y2="260.50" stroke="#1a1a1a" stroke-width="1.1" />
<text x="589.74" y="264.78" font-size="12.8" fill="#000" >1.5</text>
<line x1="609.20" y1="296.80" x2="616.50" y2="296.80" stroke="#1a1a1a" stroke-width="1.1" />
<text x="589.71" y="301.08" font-size="12.8" fill="#000" >1.0</text>
<line x1="609.20" y1="333.10" x2="616.50" y2="333.10" stroke="#1a1a1a" stroke-width="1.1" />
<text x="589.74" y="337.38" font-size="12.8" fill="#000" >0.5</text>
<line x1="609.20" y1="369.40" x2="616.50" y2="369.40" stroke="#1a1a1a" stroke-width="1.1" />
<text x="589.71" y="373.68" font-size="12.8" fill="#000" >0.0</text>
<rect x="629.60" y="297.10" width="25.40" height="72.30" fill="#808080" stroke="#000" stroke-width="1.0"/>
<line x1="642.30" y1="295.20" x2="642.30" y2="299.00" stroke="#000" stroke-width="1.0" />
<line x1="636.30" y1="295.20" x2="648.30" y2="295.20" stroke="#000" stroke-width="1.0" />
<line x1="636.30" y1="299.00" x2="648.30" y2="299.00" stroke="#000" stroke-width="1.0" />
<circle cx="634.60" cy="299.20" r="2.05" fill="#FF8C00" stroke="#000" stroke-width="0.9"/>
<circle cx="642.00" cy="295.20" r="2.05" fill="#FF8C00" stroke="#000" stroke-width="0.9"/>
<circle cx="649.60" cy="296.00" r="2.05" fill="#FF8C00" stroke="#000" stroke-width="0.9"/>
<rect x="668.40" y="331.90" width="25.40" height="37.50" fill="#FF4040" stroke="#000" stroke-width="1.0"/>
<line x1="681.10" y1="323.40" x2="681.10" y2="340.20" stroke="#000" stroke-width="1.0" />
<line x1="674.40" y1="323.40" x2="687.80" y2="323.40" stroke="#000" stroke-width="1.0" />
<line x1="674.40" y1="340.20" x2="687.80" y2="340.20" stroke="#000" stroke-width="1.0" />
<circle cx="681.00" cy="318.50" r="2.05" fill="#FF8C00" stroke="#000" stroke-width="0.9"/>
<circle cx="681.00" cy="328.60" r="2.05" fill="#FF8C00" stroke="#000" stroke-width="0.9"/>
<circle cx="681.00" cy="347.50" r="2.05" fill="#FF8C00" stroke="#000" stroke-width="0.9"/>
<line x1="616.50" y1="369.40" x2="707.80" y2="369.40" stroke="#1a1a1a" stroke-width="1.1" />
<line x1="642.30" y1="369.40" x2="642.30" y2="376.40" stroke="#1a1a1a" stroke-width="1.1" />
<line x1="681.10" y1="369.40" x2="681.10" y2="376.40" stroke="#1a1a1a" stroke-width="1.1" />
<polyline points="641.30,289.30 641.30,280.60 680.90,280.60 680.90,311.60" fill="none" stroke="#222" stroke-width="1.1"/>
<polygon points="658.95,271.70 659.51,273.04 660.95,273.15 659.85,274.09 660.18,275.50 658.95,274.75 657.72,275.50 658.05,274.09 656.95,273.15 658.39,273.04" fill="#000"/>
<polygon points="663.05,271.70 663.61,273.04 665.05,273.15 663.95,274.09 664.28,275.50 663.05,274.75 661.82,275.50 662.15,274.09 661.05,273.15 662.49,273.04" fill="#000"/>
<text x="612.71" y="395.00" font-size="12.8" fill="#000" >TR</text>
<text x="640.17" y="395.00" font-size="12.8" fill="#000" >-</text>
<text x="677.37" y="395.00" font-size="12.8" fill="#000" >+</text>
</svg></body></html>
